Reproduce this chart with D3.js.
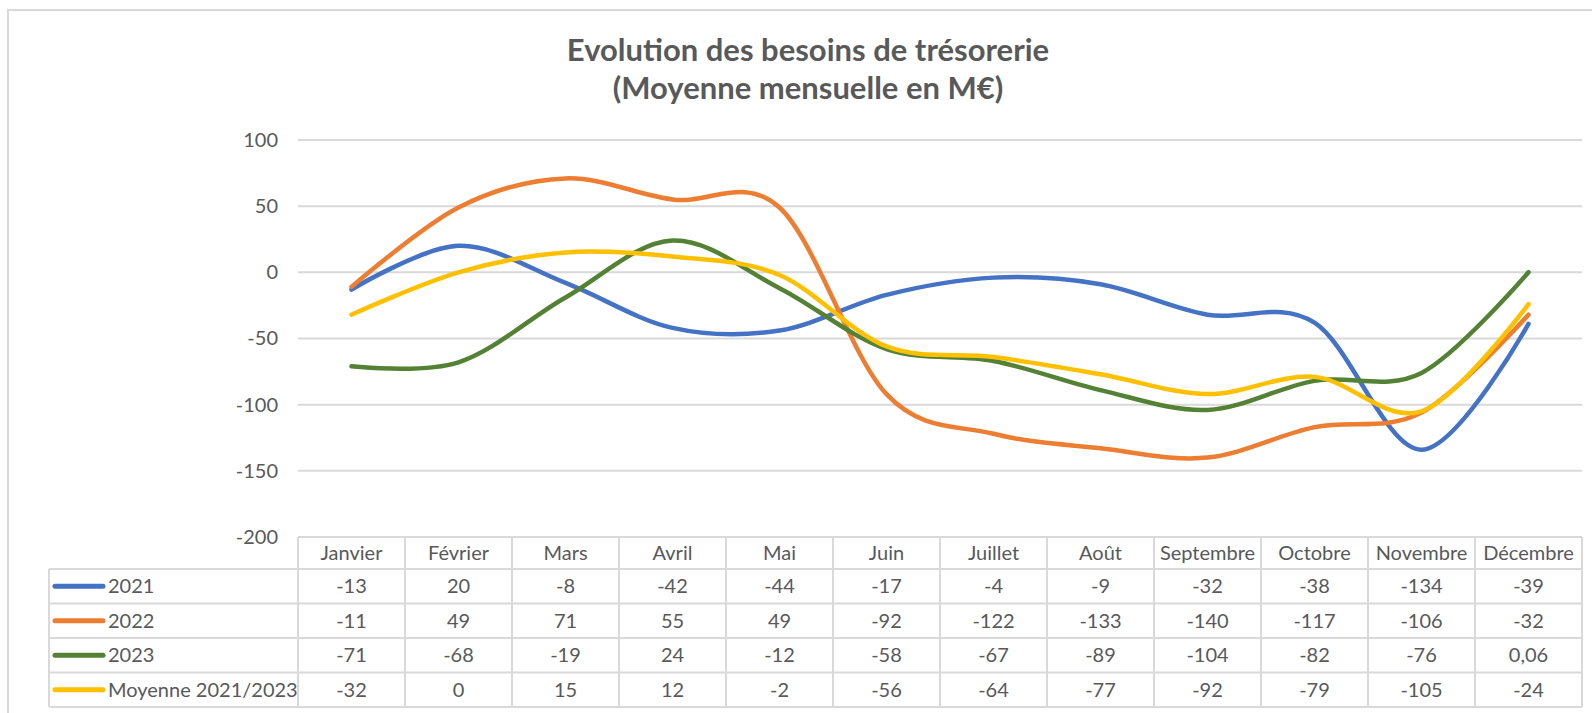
<!DOCTYPE html>
<html>
<head>
<meta charset="utf-8">
<script src="https://d3js.org/d3.v7.min.js"></script>
<style>
  body { margin: 0; background: #fff; }
  svg { display: block; font-family: Lato, "Open Sans", sans-serif; }
</style>
</head>
<body>
<svg id="chart" width="1592" height="713"></svg>
<script>
// data
const months = ["Janvier", "Février", "Mars", "Avril", "Mai", "Juin", "Juillet", "Août", "Septembre", "Octobre", "Novembre", "Décembre"]
const seriesNames = ["2021", "2022", "2023", "Moyenne 2021/2023"]
const values2021 = [-13, 20, -8, -42, -44, -17, -4, -9, -32, -38, -134, -39]
const values2022 = [-11, 49, 71, 55, 49, -92, -122, -133, -140, -117, -106, -32]
const values2023 = [-71, -68, -19, 24, -12, -58, -67, -89, -104, -82, -76, 0.06]
const valuesMoy = [-32, 0, 15, 12, -2, -56, -64, -77, -92, -79, -105, -24]
const yTicks = [100, 50, 0, -50, -100, -150, -200]
const colors = ["#4472C4", "#ED7D31", "#548235", "#FFC000"]

const series = seriesNames.map((name, i) => ({
    name: name,
    values: [values2021, values2022, values2023, valuesMoy][i],
    color: colors[i]
}))

const svg = d3.select("#chart")
const textColor = "#595959"
const gridColor = "#d9d9d9"

// french number format, plain hyphen for minus
const fr = d3.formatLocale({ decimal: ",", thousands: " ", grouping: [3], currency: ["", "€"], minus: "-" })
const fmt = fr.format("~f")

// outer frame (left and top edges visible)
svg.append("rect")
    .attr("x", 8).attr("y", 10)
    .attr("width", 1600).attr("height", 720)
    .attr("fill", "none")
    .attr("stroke", gridColor)
    .attr("stroke-width", 2)

// title
const title = svg.append("text")
    .attr("text-anchor", "middle")
    .attr("fill", textColor)
    .style("font-weight", "bold")
    .style("font-size", "31px")
title.append("tspan").attr("x", 808).attr("y", 61).text("Evolution des besoins de trésorerie")
title.append("tspan").attr("x", 808).attr("y", 99).text("(Moyenne mensuelle en M€)")

const left = 298, right = 1582
const x = d3.scaleBand().domain(months).range([left, right])
const y = d3.scaleLinear().domain([-200, 100]).range([537, 140])

// gridlines
svg.append("g")
    .selectAll("line")
    .data(yTicks.filter(d => d > -200))
    .enter().append("line")
    .attr("x1", left).attr("x2", right)
    .attr("y1", d => y(d)).attr("y2", d => y(d))
    .attr("stroke", gridColor)
    .attr("stroke-width", 2)

// y axis
const yAxis = svg.append("g")
    .attr("transform", `translate(${left - 20},0)`)
    .call(d3.axisLeft(y).tickValues(yTicks).tickSize(0).tickPadding(0).tickFormat(fmt))
yAxis.select(".domain").remove()
yAxis.selectAll("text")
    .attr("fill", textColor)
    .style("font-family", "Lato, 'Open Sans', sans-serif")
    .style("font-size", "20px")

// smoothed lines (Excel style ~ uniform catmull-rom)
const line = d3.line()
    .x((d, i) => x(months[i]) + x.bandwidth() / 2)
    .y(d => y(d))
    .curve(d3.curveCardinal.tension(0))

svg.append("g")
    .selectAll("path")
    .data(series)
    .enter().append("path")
    .attr("d", d => line(d.values))
    .attr("fill", "none")
    .attr("stroke", d => d.color)
    .attr("stroke-width", 4.5)
    .attr("stroke-linecap", "round")
    .attr("stroke-linejoin", "round")

// data table
const headerTop = 537, headerBottom = 569
const rowH = 34.5
const legendLeft = 49
const tableBottom = headerBottom + rowH * series.length

const table = svg.append("g")

// header cells
table.selectAll("text.month")
    .data(months)
    .enter().append("text")
    .attr("class", "month")
    .attr("x", d => x(d) + x.bandwidth() / 2)
    .attr("y", (headerTop + headerBottom) / 2)
    .attr("dy", "0.35em")
    .attr("text-anchor", "middle")
    .attr("fill", textColor)
    .style("font-size", "20px")
    .text(d => d)

// rows
const rows = table.selectAll("g.row")
    .data(series)
    .enter().append("g")
    .attr("class", "row")
    .attr("transform", (d, i) => `translate(0,${headerBottom + i * rowH})`)

rows.append("line")
    .attr("x1", legendLeft + 6).attr("x2", legendLeft + 54)
    .attr("y1", rowH / 2).attr("y2", rowH / 2)
    .attr("stroke", d => d.color)
    .attr("stroke-width", 5)
    .attr("stroke-linecap", "round")

rows.append("text")
    .attr("x", legendLeft + 59)
    .attr("y", rowH / 2)
    .attr("dy", "0.35em")
    .attr("fill", textColor)
    .style("font-size", "20px")
    .text(d => d.name)

rows.selectAll("text.val")
    .data(d => d.values)
    .enter().append("text")
    .attr("class", "val")
    .attr("x", (d, i) => x(months[i]) + x.bandwidth() / 2)
    .attr("y", rowH / 2)
    .attr("dy", "0.35em")
    .attr("text-anchor", "middle")
    .attr("fill", textColor)
    .style("font-size", "20px")
    .text(d => fmt(d))

// table borders
const hLines = [
    { y: headerTop, x1: left, x2: right },
    { y: headerBottom, x1: legendLeft, x2: right }
]
series.forEach((s, i) => hLines.push({ y: headerBottom + (i + 1) * rowH, x1: legendLeft, x2: right }))

table.selectAll("line.h")
    .data(hLines)
    .enter().append("line")
    .attr("class", "h")
    .attr("x1", d => d.x1).attr("x2", d => d.x2)
    .attr("y1", d => d.y).attr("y2", d => d.y)
    .attr("stroke", gridColor)
    .attr("stroke-width", 2)

const vLines = [{ x: legendLeft, y1: headerBottom }]
months.forEach(m => vLines.push({ x: x(m), y1: headerTop }))
vLines.push({ x: right, y1: headerTop })

table.selectAll("line.v")
    .data(vLines)
    .enter().append("line")
    .attr("class", "v")
    .attr("x1", d => d.x).attr("x2", d => d.x)
    .attr("y1", d => d.y1).attr("y2", tableBottom)
    .attr("stroke", gridColor)
    .attr("stroke-width", 2)
</script>
</body>
</html>
